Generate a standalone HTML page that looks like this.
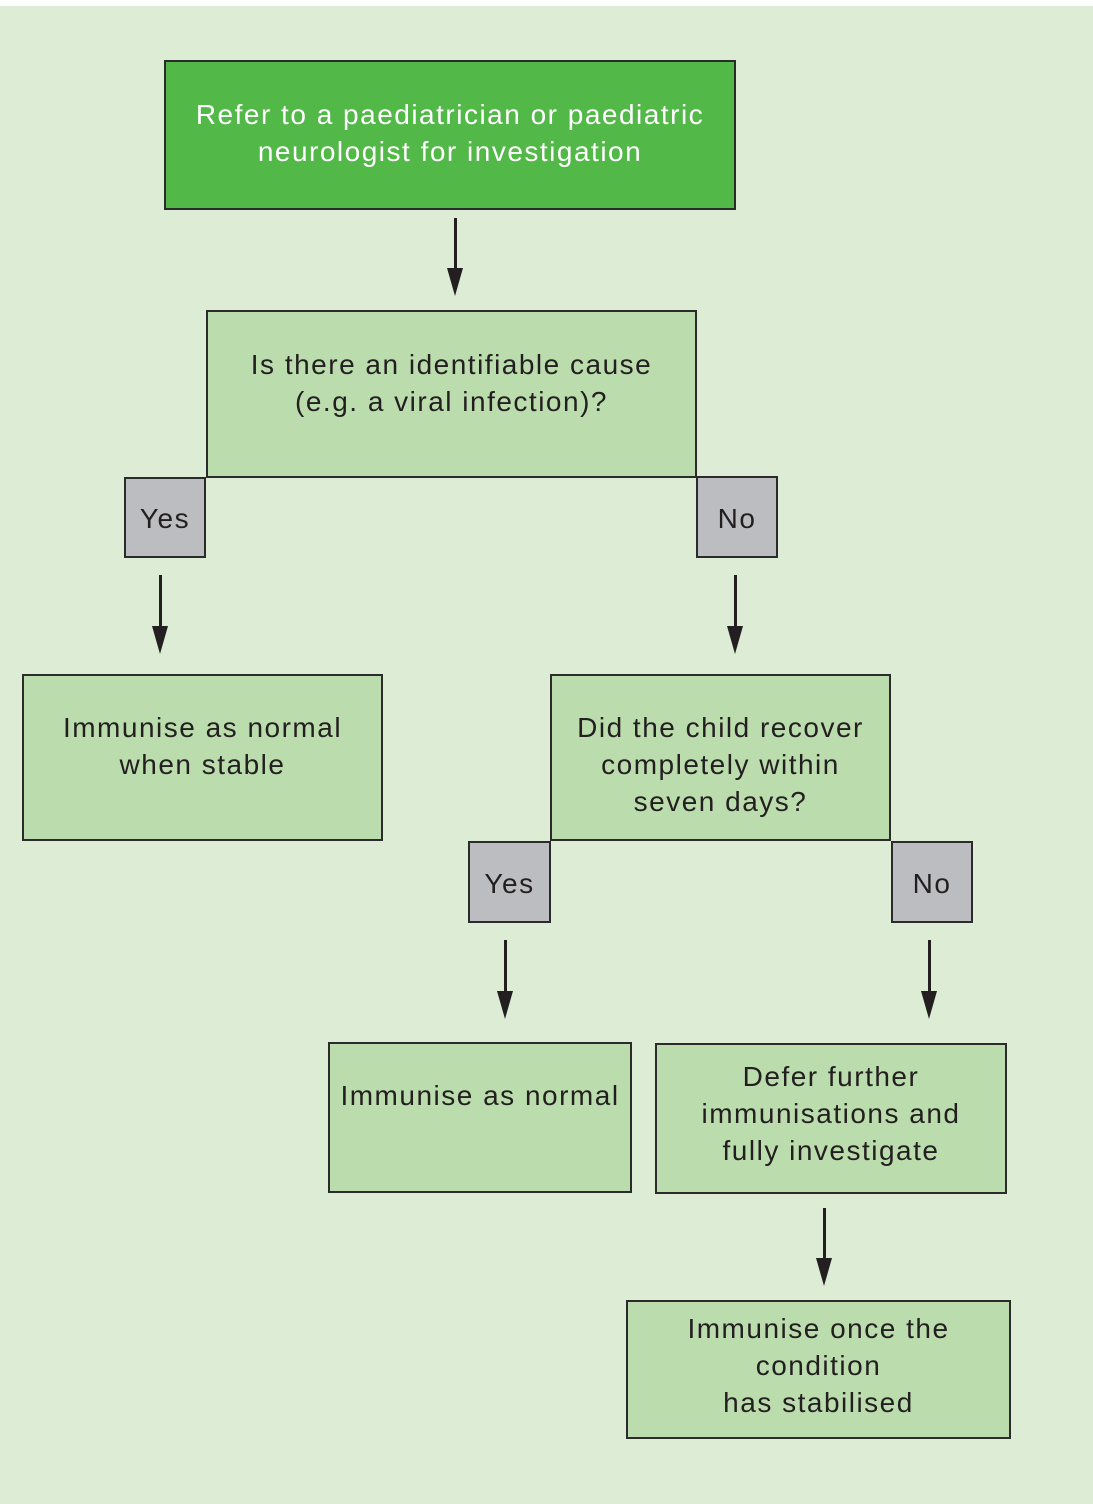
<!DOCTYPE html>
<html><head><meta charset="utf-8"><style>
html,body{margin:0;padding:0;}
body{width:1093px;height:1504px;position:relative;background:#fff;overflow:hidden;font-family:"Liberation Sans",sans-serif;}
#bg{position:absolute;left:0;top:6px;width:1093px;height:1498px;background:#ddecd4;}
.b{position:absolute;box-sizing:border-box;border:2px solid #2b2b2b;background:#bbdcac;}
.g{background:#bcbdc1;}
.t{position:absolute;text-align:center;font-size:28px;letter-spacing:1.5px;line-height:37px;color:#231f20;white-space:nowrap;}
.a{position:absolute;width:3px;background:#231f20;}
.h{position:absolute;width:0;height:0;border-left:8px solid transparent;border-right:8px solid transparent;border-top:28px solid #231f20;}
</style></head><body>
<div id="bg"></div>

<div class="b" style="left:164px;top:60px;width:572px;height:150px;background:#52b848;"></div>
<div class="t" style="left:164px;top:96px;width:572px;color:#fff;">Refer to a paediatrician or paediatric<br>neurologist for investigation</div>

<div class="a" style="left:454px;top:218px;height:55px;"></div><div class="h" style="left:447px;top:268px;"></div>

<div class="b" style="left:206px;top:310px;width:491px;height:168px;"></div>
<div class="t" style="left:206px;top:346px;width:491px;">Is there an identifiable cause<br>(e.g. a viral infection)?</div>

<div class="b g" style="left:124px;top:477px;width:82px;height:81px;"></div>
<div class="t" style="left:124px;top:500px;width:82px;">Yes</div>
<div class="b g" style="left:696px;top:476px;width:82px;height:82px;"></div>
<div class="t" style="left:696px;top:500px;width:82px;">No</div>

<div class="a" style="left:159px;top:575px;height:55px;"></div><div class="h" style="left:152px;top:626px;"></div>
<div class="a" style="left:734px;top:575px;height:55px;"></div><div class="h" style="left:727px;top:626px;"></div>

<div class="b" style="left:22px;top:674px;width:361px;height:167px;"></div>
<div class="t" style="left:22px;top:709px;width:361px;">Immunise as normal<br>when stable</div>

<div class="b" style="left:550px;top:674px;width:341px;height:167px;"></div>
<div class="t" style="left:550px;top:709px;width:341px;">Did the child recover<br>completely within<br>seven days?</div>

<div class="b g" style="left:468px;top:841px;width:83px;height:82px;"></div>
<div class="t" style="left:468px;top:865px;width:83px;">Yes</div>
<div class="b g" style="left:891px;top:841px;width:82px;height:82px;"></div>
<div class="t" style="left:891px;top:865px;width:82px;">No</div>

<div class="a" style="left:504px;top:940px;height:55px;"></div><div class="h" style="left:497px;top:991px;"></div>
<div class="a" style="left:928px;top:940px;height:55px;"></div><div class="h" style="left:921px;top:991px;"></div>

<div class="b" style="left:328px;top:1042px;width:304px;height:151px;"></div>
<div class="t" style="left:328px;top:1077px;width:304px;">Immunise as normal</div>

<div class="b" style="left:655px;top:1043px;width:352px;height:151px;"></div>
<div class="t" style="left:655px;top:1058px;width:352px;">Defer further<br>immunisations and<br>fully investigate</div>

<div class="a" style="left:823px;top:1208px;height:55px;"></div><div class="h" style="left:816px;top:1258px;"></div>

<div class="b" style="left:626px;top:1300px;width:385px;height:139px;"></div>
<div class="t" style="left:626px;top:1310px;width:385px;">Immunise once the<br>condition<br>has stabilised</div>
</body></html>
